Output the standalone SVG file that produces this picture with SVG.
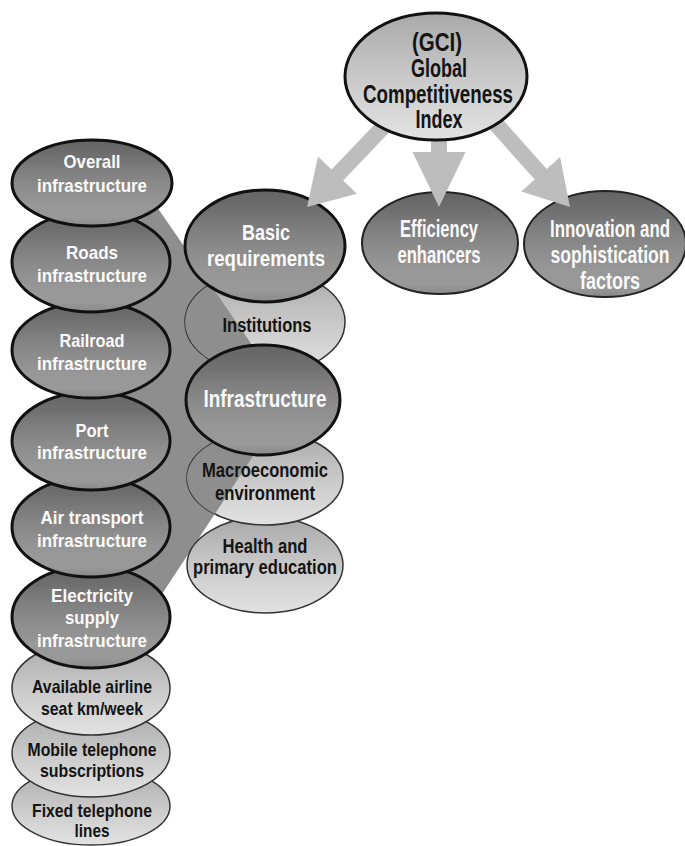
<svg xmlns="http://www.w3.org/2000/svg" width="685" height="846" viewBox="0 0 685 846">
  <defs>
    <linearGradient id="gDark" x1="0" y1="0" x2="0" y2="1">
      <stop offset="0" stop-color="#646464"/>
      <stop offset="0.18" stop-color="#6f6f6f"/>
      <stop offset="0.35" stop-color="#7e7e7e"/>
      <stop offset="0.55" stop-color="#8c8c8c"/>
      <stop offset="0.75" stop-color="#979797"/>
      <stop offset="0.9" stop-color="#999999"/>
      <stop offset="1" stop-color="#8a8a8a"/>
    </linearGradient>
    <linearGradient id="gLight" x1="0" y1="0" x2="0" y2="1">
      <stop offset="0" stop-color="#a8a8a8"/>
      <stop offset="0.3" stop-color="#bcbcbc"/>
      <stop offset="0.6" stop-color="#cecece"/>
      <stop offset="1" stop-color="#e2e2e2"/>
    </linearGradient>
    <style>
      .dark { fill: url(#gDark); stroke: #111; stroke-width: 3; }
      .darkThin { fill: url(#gDark); stroke: #222; stroke-width: 2; }
      .light { fill: url(#gLight); stroke: #333; stroke-width: 1.5; }
      .top { fill: url(#gLight); stroke: #111; stroke-width: 3; }
      text { font-family: "Liberation Sans", Arial, sans-serif; font-weight: bold; text-anchor: middle; }
      .w { fill: #fafafa; }
      .b { fill: #141414; }
      .s19 { font-size: 19px; }
      .s20 { font-size: 20px; }
      .s22 { font-size: 22px; }
      .s23 { font-size: 23px; }
      .s24 { font-size: 24px; }
      .s25 { font-size: 25px; }
      .arrow { fill: #bdbdbd; stroke: none; }
      .band { fill: #8e8e8e; stroke: none; }
    </style>
  </defs>

  <!-- wedge linking Infrastructure to its indicators, behind everything -->
  <g id="callout">
    <polygon class="band" points="125,160.6 290,400 125,650"/>
  </g>

  <!-- sub-pillars of Basic requirements (light); the wedge's share of each
       ellipse is filled in before the label so the label stays on top -->
  <g id="health">
    <ellipse class="light" cx="265" cy="565" rx="78" ry="48"/>
    <path class="band" d="M195.4,543.3 L190.5,550.7 A78,48 0 0 1 195.4,543.3 Z"/>
    <text class="b s20" x="265" y="553" textLength="85" lengthAdjust="spacingAndGlyphs">Health and</text>
    <text class="b s20" x="265" y="574" textLength="144" lengthAdjust="spacingAndGlyphs">primary education</text>
  </g>
  <g id="macro">
    <ellipse class="light" cx="265" cy="478" rx="78" ry="47"/>
    <path class="band" d="M269.5,431.1 L214.8,514 A78,47 0 0 1 269.5,431.1 Z"/>
    <text class="b s20" x="265" y="477" textLength="126" lengthAdjust="spacingAndGlyphs">Macroeconomic</text>
    <text class="b s20" x="265" y="500" textLength="100" lengthAdjust="spacingAndGlyphs">environment</text>
  </g>
  <g id="institutions">
    <ellipse class="light" cx="265" cy="322" rx="80" ry="52"/>
    <path class="band" d="M210.2,284.2 L271.9,373.8 A80,52 0 0 1 210.2,284.2 Z"/>
    <text class="b s20" x="267" y="332" textLength="89" lengthAdjust="spacingAndGlyphs">Institutions</text>
  </g>

  <!-- infrastructure indicators, drawn bottom-up so upper ones overlap -->
  <g id="fixed">
    <ellipse class="light" cx="91" cy="806" rx="79" ry="39"/>
    <text class="b s19" x="92" y="817" textLength="120" lengthAdjust="spacingAndGlyphs">Fixed telephone</text>
    <text class="b s19" x="92" y="837" textLength="35" lengthAdjust="spacingAndGlyphs">lines</text>
  </g>
  <g id="mobile">
    <ellipse class="light" cx="91" cy="753" rx="79" ry="44"/>
    <text class="b s19" x="92" y="756" textLength="129" lengthAdjust="spacingAndGlyphs">Mobile telephone</text>
    <text class="b s19" x="92" y="777" textLength="104" lengthAdjust="spacingAndGlyphs">subscriptions</text>
  </g>
  <g id="airline-seats">
    <ellipse class="light" cx="91" cy="688" rx="79" ry="47"/>
    <text class="b s19" x="92" y="693" textLength="120" lengthAdjust="spacingAndGlyphs">Available airline</text>
    <text class="b s19" x="92" y="715" textLength="102" lengthAdjust="spacingAndGlyphs">seat km/week</text>
  </g>
  <g id="electricity">
    <ellipse class="dark" cx="91" cy="617" rx="79" ry="51"/>
    <text class="w s19" x="92" y="602" textLength="82" lengthAdjust="spacingAndGlyphs">Electricity</text>
    <text class="w s19" x="92" y="624" textLength="54" lengthAdjust="spacingAndGlyphs">supply</text>
    <text class="w s19" x="92" y="647" textLength="110" lengthAdjust="spacingAndGlyphs">infrastructure</text>
  </g>
  <g id="air-transport">
    <ellipse class="dark" cx="91" cy="527" rx="79" ry="50"/>
    <text class="w s19" x="92" y="524" textLength="103" lengthAdjust="spacingAndGlyphs">Air transport</text>
    <text class="w s19" x="92" y="547" textLength="110" lengthAdjust="spacingAndGlyphs">infrastructure</text>
  </g>
  <g id="port">
    <ellipse class="dark" cx="91" cy="441" rx="79" ry="49"/>
    <text class="w s19" x="92" y="437" textLength="33" lengthAdjust="spacingAndGlyphs">Port</text>
    <text class="w s19" x="92" y="459" textLength="110" lengthAdjust="spacingAndGlyphs">infrastructure</text>
  </g>
  <g id="railroad">
    <ellipse class="dark" cx="91" cy="350" rx="79" ry="48"/>
    <text class="w s19" x="92" y="347" textLength="65" lengthAdjust="spacingAndGlyphs">Railroad</text>
    <text class="w s19" x="92" y="370" textLength="110" lengthAdjust="spacingAndGlyphs">infrastructure</text>
  </g>
  <g id="roads">
    <ellipse class="dark" cx="91" cy="262" rx="79" ry="50"/>
    <text class="w s19" x="92" y="259" textLength="52" lengthAdjust="spacingAndGlyphs">Roads</text>
    <text class="w s19" x="92" y="282" textLength="110" lengthAdjust="spacingAndGlyphs">infrastructure</text>
  </g>
  <g id="overall">
    <ellipse class="dark" cx="92" cy="183" rx="80" ry="43"/>
    <text class="w s19" x="92" y="168" textLength="57" lengthAdjust="spacingAndGlyphs">Overall</text>
    <text class="w s19" x="92" y="192" textLength="110" lengthAdjust="spacingAndGlyphs">infrastructure</text>
  </g>

  <!-- pillars -->
  <g id="infrastructure">
    <ellipse class="dark" cx="263" cy="400" rx="77" ry="55"/>
    <text class="w s24" x="265" y="407" textLength="123" lengthAdjust="spacingAndGlyphs">Infrastructure</text>
  </g>
  <g id="basic">
    <ellipse class="dark" cx="265" cy="246" rx="80" ry="56"/>
    <text class="w s22" x="266" y="240" textLength="48" lengthAdjust="spacingAndGlyphs">Basic</text>
    <text class="w s22" x="266" y="266" textLength="118" lengthAdjust="spacingAndGlyphs">requirements</text>
  </g>
  <g id="efficiency">
    <ellipse class="darkThin" cx="440" cy="243" rx="78" ry="51"/>
    <text class="w s23" x="439" y="237" textLength="78" lengthAdjust="spacingAndGlyphs">Efficiency</text>
    <text class="w s23" x="439" y="263" textLength="83" lengthAdjust="spacingAndGlyphs">enhancers</text>
  </g>
  <g id="innovation">
    <ellipse class="darkThin" cx="605" cy="244" rx="81" ry="53"/>
    <!-- narrow lettering: labels set in a horizontally compressed frame -->
    <g transform="translate(610,0) scale(0.75,1)">
      <text class="w s23" x="0" y="237" textLength="160" lengthAdjust="spacingAndGlyphs">Innovation and</text>
      <text class="w s23" x="0" y="263" textLength="158.7" lengthAdjust="spacingAndGlyphs">sophistication</text>
      <text class="w s23" x="0" y="289" textLength="80" lengthAdjust="spacingAndGlyphs">factors</text>
    </g>
  </g>

  <!-- block arrows from the index to the three pillar groups -->
  <g id="connectors">
    <polygon class="arrow" points="408.8,111.8 343.2,180.6 356.9,193.7 307,207 318,156.5 331.6,169.6 397.2,100.8"/>
    <polygon class="arrow" points="431,110 447,110 447,152 465.5,152 439,207 412.5,152 431,152"/>
    <polygon class="arrow" points="471.4,108.7 534.7,179.5 521.3,191.5 570,207 560.1,156.9 546.7,168.9 483.4,98.1"/>
  </g>

  <!-- index -->
  <g id="gci">
    <ellipse class="top" cx="436" cy="76.5" rx="91" ry="63.5"/>
    <text class="b s25" x="437" y="51" textLength="50" lengthAdjust="spacingAndGlyphs">(GCI)</text>
    <text class="b s25" x="439" y="77" textLength="56" lengthAdjust="spacingAndGlyphs">Global</text>
    <text class="b s25" x="438" y="103" textLength="150" lengthAdjust="spacingAndGlyphs">Competitiveness</text>
    <text class="b s25" x="439" y="128" textLength="47" lengthAdjust="spacingAndGlyphs">Index</text>
  </g>
</svg>
